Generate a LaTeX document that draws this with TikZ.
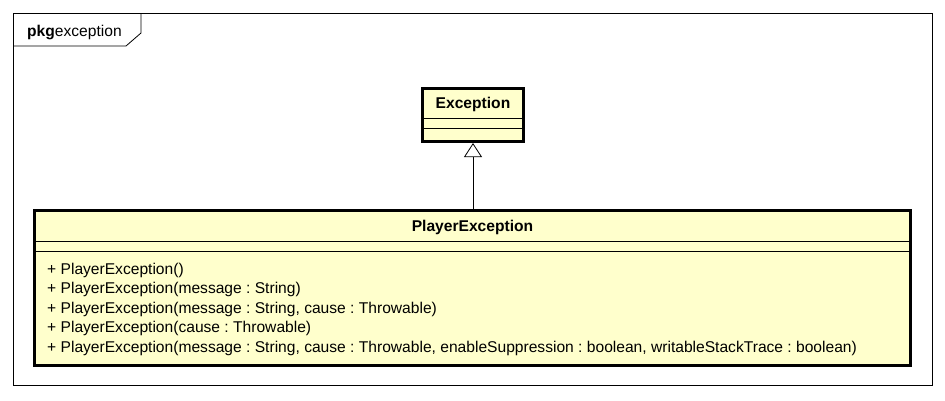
\documentclass[tikz,border=0pt]{standalone}
\usepackage{fontspec}
\setmainfont{Liberation Sans}
\usetikzlibrary{arrows.meta,calc}
\definecolor{classfill}{RGB}{255,255,204}
\frenchspacing
\tikzset{
  classbox/.style={draw=black, line width=2.6pt, fill=classfill, rectangle, inner sep=0pt},
  sepline/.style={draw=black, line width=0.8pt},
  frameline/.style={draw=black, line width=0.8pt},
  txt/.style={inner sep=0pt, font=\fontsize{15.6}{18}\selectfont\frenchspacing},
  ttl/.style={inner sep=0pt, font=\fontsize{15.6}{18}\selectfont\bfseries},
  gen/.style={draw=black, line width=0.8pt, -{Triangle[open, length=14pt, width=18pt, line width=0.8pt]}}
}
\begin{document}
\begin{tikzpicture}[x=1pt,y=-1pt]
\useasboundingbox (0,0) rectangle (945,400);
% package frame
\draw[frameline] (13,13) rectangle (932,385);
\draw[frameline] (13,46) -- (126,46) -- (141,33) -- (141,13);
\node[txt, anchor=base west] (pkg) at (27,36.5) {\textbf{pkg}exception};
% Exception class
\node[classbox, minimum width=101.5pt, minimum height=53.5pt] (exc) at (473,115) {};
\coordinate (excs1l) at ($(exc.north west)+(0,31)$);
\coordinate (excs1r) at ($(exc.north east)+(0,31)$);
\coordinate (excs2l) at ($(exc.north west)+(0,41)$);
\coordinate (excs2r) at ($(exc.north east)+(0,41)$);
\draw[sepline] (excs1l) -- (excs1r);
\draw[sepline] (excs2l) -- (excs2r);
\node[ttl, anchor=base] (exct) at (473,108.5) {Exception};
% PlayerException class
\node[classbox, minimum width=876pt, minimum height=155.5pt] (pe) at (472.5,288) {};
\coordinate (pes1l) at ($(pe.north west)+(0,32)$);
\coordinate (pes1r) at ($(pe.north east)+(0,32)$);
\coordinate (pes2l) at ($(pe.north west)+(0,42)$);
\coordinate (pes2r) at ($(pe.north east)+(0,42)$);
\draw[sepline] (pes1l) -- (pes1r);
\draw[sepline] (pes2l) -- (pes2r);
\node[ttl, anchor=base] (pet) at (472.5,231.5) {PlayerException};
\node[txt, anchor=base west] (m1) at (47,274) {+ PlayerException()};
\node[txt, anchor=base west] (m2) at (47,293.5) {+ PlayerException(message : String)};
\node[txt, anchor=base west] (m3) at (47,313) {+ PlayerException(message : String, cause : Throwable)};
\node[txt, anchor=base west] (m4) at (47,332.5) {+ PlayerException(cause : Throwable)};
\node[txt, anchor=base west] (m5) at (47,352) {+ PlayerException(message : String, cause : Throwable, enableSuppression : boolean, writableStackTrace : boolean)};
% generalization
\draw[gen] (pe.north -| exc.south) -- (exc.south);
\end{tikzpicture}
\end{document}
